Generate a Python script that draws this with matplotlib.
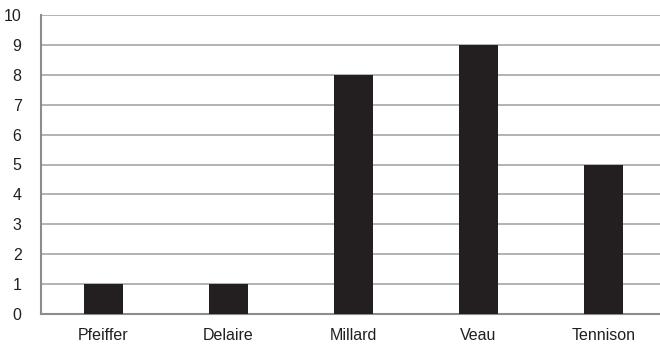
import matplotlib
matplotlib.use("Agg")
import matplotlib.pyplot as plt

names = ["Pfeiffer", "Delaire", "Millard", "Veau", "Tennison"]
counts = [1, 1, 8, 9, 5]
yticks = list(range(0, 11))

plt.rcParams['font.family'] = ['Liberation Sans', 'DejaVu Sans']

fig = plt.figure(figsize=(6.6, 3.45), dpi=100)
ax = fig.add_axes([41 / 660, 1 - 314 / 345, 625 / 660, 299 / 345])

x = list(range(len(names)))
ax.bar(x, counts, width=0.31, color="#231f20", zorder=3)

ax.set_xlim(-0.5, len(names) - 0.5)
ax.set_ylim(0, 10)
ax.set_yticks(yticks)
ax.set_xticks(x)
ax.set_xticklabels(names)
ax.tick_params(length=0, labelsize=11.5, colors="#231f20")
ax.tick_params(axis="y", pad=14)
ax.tick_params(axis="x", pad=10)

ax.yaxis.grid(True, color="#a6a6a6", linewidth=1.2, zorder=0)
for side in ["top", "right"]:
    ax.spines[side].set_visible(False)
for side in ["left", "bottom"]:
    ax.spines[side].set_color("#8c8c8c")
    ax.spines[side].set_linewidth(1.5)

fig.savefig("out.png", dpi=100)
